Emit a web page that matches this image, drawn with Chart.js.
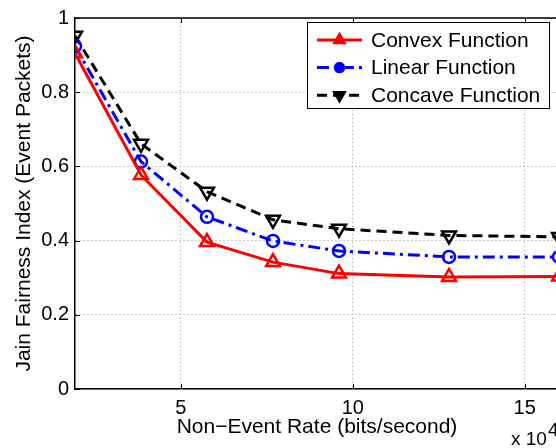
<!DOCTYPE html>
<html lang="en">
<head>
    <meta charset="UTF-8">
    <title>Jain Fairness Index</title>
    <script src="https://cdn.jsdelivr.net/npm/chart.js"></script>
    <style>
        html, body { margin: 0; padding: 0; overflow: hidden; background: #fff; }
        #wrap { position: relative; width: 600px; height: 448px; }
    </style>
</head>
<body>
    <div id="wrap"><canvas id="fairChart"></canvas></div>

    <script>
        // Non-event rate (x 10^4 bits/second)
        const rates = [1.92, 3.84, 5.76, 7.68, 9.6, 12.8, 16];
        const convexVals = [0.905, 0.577, 0.396, 0.342, 0.311, 0.302, 0.303];
        const linearVals = [0.924, 0.613, 0.464, 0.399, 0.372, 0.356, 0.356];
        const concaveVals = [0.952, 0.661, 0.532, 0.456, 0.432, 0.414, 0.410];
        const seriesNames = ["Convex Function", "Linear Function", "Concave Function"];
        const xTicks = [5, 10, 15];
        const yTicks = [0, 0.2, 0.4, 0.6, 0.8, 1];

        const FONT = "'Liberation Sans', Arial, Helvetica, sans-serif";

        function toPoints(vals) {
            return vals.map((v, i) => ({ x: rates[i], y: v }));
        }

        // box top edge, inward ticks, legend and exponent label
        const decorations = {
            id: "decorations",
            afterDraw(chart) {
                const ctx = chart.ctx;
                const area = chart.chartArea;
                const xs = chart.scales.x, ys = chart.scales.y;
                ctx.save();
                ctx.strokeStyle = "#000";
                ctx.lineWidth = 1.5;
                ctx.beginPath();
                ctx.moveTo(area.left, area.top);
                ctx.lineTo(area.right, area.top);
                ctx.stroke();

                ctx.lineWidth = 1;
                ctx.beginPath();
                xTicks.forEach(v => {
                    const px = Math.round(xs.getPixelForValue(v)) + 0.5;
                    ctx.moveTo(px, area.bottom); ctx.lineTo(px, area.bottom - 5);
                    ctx.moveTo(px, area.top); ctx.lineTo(px, area.top + 5);
                });
                yTicks.forEach(v => {
                    const py = Math.round(ys.getPixelForValue(v)) + 0.5;
                    ctx.moveTo(area.left, py); ctx.lineTo(area.left + 5, py);
                });
                ctx.stroke();

                // legend
                const bx = 307.5, by = 22.5, bw = 242, bh = 86;
                ctx.fillStyle = "#fff";
                ctx.fillRect(bx, by, bw, bh);
                ctx.strokeStyle = "#000";
                ctx.lineWidth = 1;
                ctx.strokeRect(bx, by, bw, bh);
                chart.data.datasets.forEach((ds, i) => {
                    const y = 40 + i * 27.6;
                    ctx.save();
                    ctx.strokeStyle = ds.borderColor;
                    ctx.lineWidth = ds.borderWidth;
                    ctx.setLineDash(ds.borderDash || []);
                    ctx.beginPath();
                    ctx.moveTo(317, y);
                    ctx.lineTo(362, y);
                    ctx.stroke();
                    ctx.setLineDash([]);
                    ctx.fillStyle = ds.borderColor;
                    ctx.lineWidth = 2.5;
                    Chart.helpers.drawPoint(ctx, {
                        pointStyle: ds.pointStyle,
                        rotation: ds.pointRotation || 0,
                        radius: ds.pointStyle === "circle" ? 4.5 : 6,
                        borderWidth: 2.5
                    }, 339.5, y);
                    ctx.restore();
                    ctx.fillStyle = "#000";
                    ctx.font = "21px " + FONT;
                    ctx.textBaseline = "middle";
                    ctx.textAlign = "left";
                    ctx.fillText(ds.label, 371, y + 1);
                });

                // exponent
                ctx.fillStyle = "#000";
                ctx.font = "19px " + FONT;
                ctx.textBaseline = "alphabetic";
                ctx.fillText("x 10", 511, 445);
                ctx.fillText("4", 548, 436);
                ctx.restore();
            }
        };

        new Chart(document.getElementById("fairChart"), {
            type: "line",
            data: {
                datasets: [
                    {
                        label: seriesNames[0],
                        data: toPoints(convexVals),
                        borderColor: "#ff0000",
                        borderWidth: 3,
                        pointStyle: "triangle",
                        pointRadius: 8,
                        pointBorderWidth: 2.5,
                        pointBackgroundColor: "rgba(0,0,0,0)"
                    },
                    {
                        label: seriesNames[1],
                        data: toPoints(linearVals),
                        borderColor: "#0000ff",
                        borderWidth: 3,
                        borderDash: [12, 5, 3, 5],
                        pointStyle: "circle",
                        pointRadius: 6,
                        pointBorderWidth: 2.5,
                        pointBackgroundColor: "rgba(0,0,0,0)"
                    },
                    {
                        label: seriesNames[2],
                        data: toPoints(concaveVals),
                        borderColor: "#000000",
                        borderWidth: 3,
                        borderDash: [10, 6],
                        pointStyle: "triangle",
                        pointRotation: 180,
                        pointRadius: 8,
                        pointBorderWidth: 2.5,
                        pointBackgroundColor: "rgba(0,0,0,0)"
                    }
                ]
            },
            options: {
                responsive: true,
                maintainAspectRatio: false,
                animation: false,
                layout: { padding: { top: 15, right: 41, bottom: 0, left: 0 } },
                plugins: {
                    legend: { display: false },
                    tooltip: { enabled: false }
                },
                scales: {
                    x: {
                        type: "linear",
                        min: 1.92,
                        max: 16,
                        afterBuildTicks: s => { s.ticks = xTicks.map(v => ({ value: v })); },
                        afterFit: s => { s.height = 59; },
                        ticks: {
                            color: "#000",
                            font: { family: FONT, size: 20 },
                            padding: 7,
                            maxRotation: 0
                        },
                        grid: {
                            color: "#999",
                            lineWidth: 1,
                            drawTicks: false
                        },
                        border: { color: "#000", width: 1.5, dash: [1, 3] },
                        title: {
                            display: true,
                            text: "Non\u2212Event Rate (bits/second)",
                            color: "#000",
                            font: { family: FONT, size: 21 },
                            padding: { top: 0, bottom: 8 }
                        }
                    },
                    y: {
                        min: 0,
                        max: 1,
                        afterBuildTicks: s => { s.ticks = yTicks.map(v => ({ value: v })); },
                        afterFit: s => { s.width = 75; },
                        ticks: {
                            color: "#000",
                            font: { family: FONT, size: 20 },
                            padding: 6,
                            callback: v => String(+v.toFixed(1))
                        },
                        grid: {
                            color: "#999",
                            lineWidth: 1,
                            drawTicks: false
                        },
                        border: { color: "#000", width: 1.5, dash: [1, 3] },
                        title: {
                            display: true,
                            text: "Jain Fairness Index (Event Packets)",
                            color: "#000",
                            font: { family: FONT, size: 21 },
                            padding: { top: 12, bottom: 0 }
                        }
                    }
                }
            },
            plugins: [decorations]
        });
    </script>
</body>
</html>
